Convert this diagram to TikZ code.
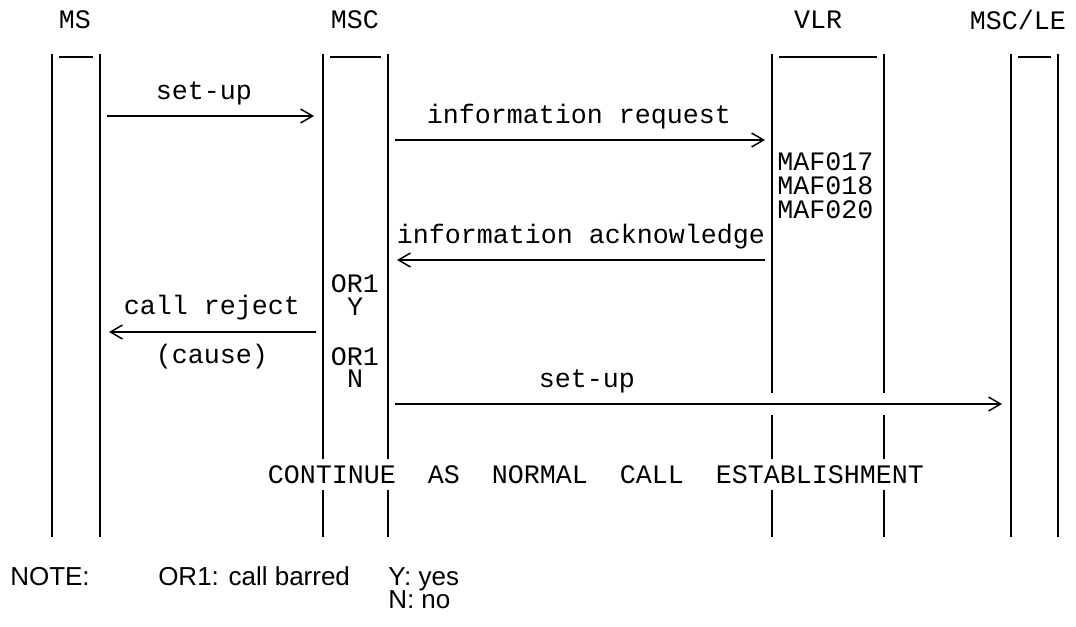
\documentclass[tikz,border=0pt]{standalone}
\usepackage{fontspec}
\setmainfont{Liberation Sans}
\setmonofont{Liberation Mono}
\usetikzlibrary{arrows.meta}
\tikzstyle{entity} = [font=\ttfamily\fontsize{20}{24}\selectfont, inner sep=0pt]
\tikzstyle{msglabel} = [font=\ttfamily\fontsize{20}{24}\selectfont, inner sep=0pt, anchor=base]
\tikzstyle{maflabel} = [font=\ttfamily\fontsize{20}{24}\selectfont, inner sep=0pt, anchor=base west]
\tikzstyle{note} = [font=\fontsize{19.5}{23}\selectfont, inner sep=0pt, anchor=base west]
\tikzstyle{lifeline} = [line width=1.5pt]
\tikzstyle{headbar} = [line width=0.8pt]
\tikzstyle{arrow} = [line width=1.5pt, -{Straight Barb[length=9pt,width=10.5pt,line width=1.1pt]}]

\begin{document}
\begin{tikzpicture}[x=0.75pt, y=-0.75pt]
\useasboundingbox (0,0) rectangle (1076,626);
\node (ms) [entity] at (75,20) {MS};
\node (msc) [entity] at (355,20) {MSC};
\node (vlr) [entity] at (818,20) {VLR};
\node (msc_le) [entity] at (1018,20) {MSC/LE};

\foreach \l/\r in {52/100, 323/388, 772/884, 1011/1058} {
  \draw[lifeline] (\l,54) -- (\l,537);
  \draw[lifeline] (\r,54) -- (\r,537);
  \draw[headbar] (\l+7,57) -- (\r-7,57);
}

\coordinate (setup_ms) at (107,116);
\coordinate (setup_msc) at (314,116);
\coordinate (inforeq_msc) at (395,140);
\coordinate (inforeq_vlr) at (765,140);
\coordinate (infoack_vlr) at (765,260);
\coordinate (infoack_msc) at (397,260);
\coordinate (reject_msc) at (316,332);
\coordinate (reject_ms) at (109,332);
\coordinate (setup_mscout) at (395,404);
\coordinate (setup_le) at (1002,404);

\node (setup_lbl) [msglabel] at (204,99) {set-up};
\node (inforeq_lbl) [msglabel] at (579,123) {information request};
\node (maf017) [maflabel] at (777,170) {MAF017};
\node (maf018) [maflabel] at (777,194) {MAF018};
\node (maf020) [maflabel] at (777,218) {MAF020};
\node (infoack_lbl) [msglabel] at (581,243) {information acknowledge};
\node (or1_y) [msglabel] at (355,292) {OR1};
\node (y_lbl) [msglabel] at (355,315) {Y};
\node (reject_lbl) [msglabel] at (212,314) {call reject};
\node (cause_lbl) [msglabel] at (212,363) {(cause)};
\node (or1_n) [msglabel] at (355,365) {OR1};
\node (n_lbl) [msglabel] at (355,387) {N};

\draw[arrow] (setup_ms) -- (setup_msc);
\draw[arrow] (inforeq_msc) -- (inforeq_vlr);
\draw[arrow] (infoack_vlr) -- (infoack_msc);
\draw[arrow] (reject_msc) -- (reject_ms);
\draw[arrow, preaction={draw=white, line width=16.5pt, -}] (setup_mscout) -- (setup_le);
\node (setup2_lbl) [msglabel] at (587,387) {set-up};

\node (continue) [msglabel, fill=white, inner xsep=0pt, inner ysep=5pt] at (596,483) {CONTINUE\ \ AS\ \ NORMAL\ \ CALL\ \ ESTABLISHMENT};

\node (note) [note] at (10,585) {NOTE:};
\node (note_or1) [note] at (158,585) {OR1: call barred};
\node (note_y) [note] at (388,585) {Y: yes};
\node (note_n) [note] at (388,608) {N: no};
\end{tikzpicture}
\end{document}
